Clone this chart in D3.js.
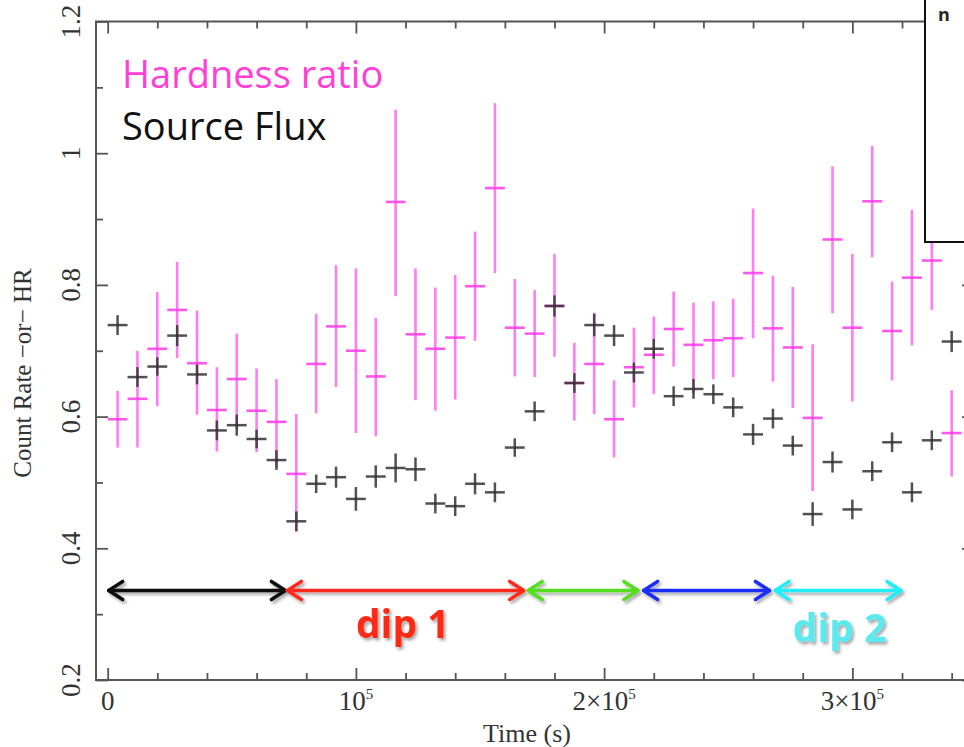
<!DOCTYPE html>
<html lang="en">
<head>
    <meta charset="UTF-8">
    <title>Hardness ratio and source flux</title>
    <script src="https://d3js.org/d3.v7.min.js"></script>
    <style>
        body {
            margin: 0;
            background: #fff;
        }
        svg {
            display: block;
        }
    </style>
</head>
<body>
<svg width="964" height="747"></svg>

<script>
    // time bins (s), centre of each 8 ks bin
    const times = [4000, 12000, 20000, 28000, 36000, 44000, 52000, 60000, 68000, 76000,
        84000, 92000, 100000, 108000, 116000, 124000, 132000, 140000, 148000, 156000,
        164000, 172000, 180000, 188000, 196000, 204000, 212000, 220000, 228000, 236000,
        244000, 252000, 260000, 268000, 276000, 284000, 292000, 300000, 308000, 316000,
        324000, 332000, 340000];
    const binHalf = 4000;

    // source flux (count rate), black crosses
    const flux = [0.739, 0.660, 0.676, 0.723, 0.664, 0.579, 0.587, 0.566, 0.534, 0.441,
        0.498, 0.508, 0.475, 0.509, 0.522, 0.520, 0.468, 0.464, 0.498, 0.485,
        0.553, 0.608, 0.768, 0.651, 0.739, 0.723, 0.667, 0.703, 0.631, 0.642,
        0.634, 0.614, 0.573, 0.597, 0.556, 0.452, 0.531, 0.459, 0.517, 0.561,
        0.485, 0.564, 0.714];
    const fluxErr = [0.015, 0.015, 0.014, 0.016, 0.015, 0.015, 0.016, 0.014, 0.015, 0.015,
        0.014, 0.016, 0.018, 0.017, 0.022, 0.018, 0.015, 0.015, 0.016, 0.015,
        0.014, 0.015, 0.016, 0.015, 0.017, 0.016, 0.015, 0.015, 0.015, 0.015,
        0.015, 0.015, 0.016, 0.015, 0.015, 0.018, 0.016, 0.015, 0.015, 0.015,
        0.015, 0.015, 0.016];

    // hardness ratio, magenta crosses with upper / lower bounds
    const hr = [0.596, 0.627, 0.703, 0.762, 0.681, 0.610, 0.657, 0.609, 0.592, 0.513,
        0.680, 0.737, 0.700, 0.661, 0.926, 0.725, 0.703, 0.720, 0.798, 0.947,
        0.735, 0.726, 0.768, 0.651, 0.680, 0.596, 0.675, 0.694, 0.733, 0.709,
        0.716, 0.719, 0.818, 0.734, 0.705, 0.598, 0.869, 0.735, 0.927, 0.730,
        0.811, 0.837, 0.575];
    const hrHi = [0.639, 0.700, 0.789, 0.835, 0.761, 0.675, 0.726, 0.673, 0.657, 0.604,
        0.756, 0.830, 0.825, 0.750, 1.066, 0.825, 0.796, 0.815, 0.881, 1.076,
        0.809, 0.792, 0.847, 0.712, 0.758, 0.655, 0.735, 0.752, 0.790, 0.773,
        0.775, 0.779, 0.916, 0.814, 0.797, 0.710, 0.980, 0.847, 1.011, 0.805,
        0.914, 0.905, 0.640];
    const hrLo = [0.553, 0.553, 0.616, 0.689, 0.603, 0.547, 0.581, 0.546, 0.523, 0.425,
        0.605, 0.645, 0.575, 0.570, 0.783, 0.625, 0.609, 0.626, 0.715, 0.818,
        0.661, 0.660, 0.691, 0.594, 0.604, 0.538, 0.614, 0.634, 0.676, 0.635,
        0.657, 0.660, 0.719, 0.653, 0.613, 0.487, 0.757, 0.623, 0.842, 0.655,
        0.708, 0.762, 0.509];

    // coloured interval arrows under the curves
    const segStart = [0, 72000, 169000, 215500, 268500];
    const segEnd = [72000, 168000, 214000, 267000, 320000];
    const segColor = ["#111111", "#ff2a1a", "#55dd22", "#1a2ef5", "#22eefa"];
    const segLevel = 0.336;

    const dipLabels = ["dip 1", "dip 2"];
    const dipTime = [100000, 276000];
    const dipLevel = [0.264, 0.257];
    const dipColor = ["#ff2a12", "#5ae9ef"];

    // tick values
    const xMajor = [0, 100000, 200000, 300000];
    const xMajorBase = ["0", "10", "2×10", "3×10"];
    const xMajorExp = ["", "5", "5", "5"];
    const xMinor = d3.range(0, 350000, 20000).filter(v => v % 100000 !== 0);
    const yMajor = [0.2, 0.4, 0.6, 0.8, 1.0, 1.2];
    const yMajorLabels = ["0.2", "0.4", "0.6", "0.8", "1", "1.2"];
    const yMinor = [0.3, 0.5, 0.7, 0.9, 1.1];

    const svg = d3.select("svg");

    const x = d3.scaleLinear().domain([-4700, 349000]).range([96, 974]);
    const y = d3.scaleLinear().domain([0.2, 1.2]).range([680, 21.5]);

    const [x0, x1] = x.range();
    const [y0, y1] = y.range();

    const defs = svg.append("defs");
    defs.append("filter").attr("id", "shadow")
        .attr("x", "-20%").attr("y", "-40%").attr("width", "140%").attr("height", "180%")
        .append("feDropShadow")
        .attr("dx", 2).attr("dy", 2.5).attr("stdDeviation", 1.6)
        .attr("flood-color", "#000").attr("flood-opacity", 0.35);

    // ---- axes (ticks pointing inwards on all four sides)
    const axisColor = "#555";

    function styleAxis(g) {
        g.select(".domain").remove();
        g.selectAll("line").attr("stroke", axisColor).attr("stroke-width", 1.8);
    }

    svg.append("g").attr("transform", `translate(0,${y0})`)
        .call(d3.axisBottom(x).tickValues(xMajor).tickSize(-12).tickFormat("")).call(styleAxis);
    svg.append("g").attr("transform", `translate(0,${y0})`)
        .call(d3.axisBottom(x).tickValues(xMinor).tickSize(-7).tickFormat("")).call(styleAxis);
    svg.append("g").attr("transform", `translate(0,${y1})`)
        .call(d3.axisTop(x).tickValues(xMajor).tickSize(-12).tickFormat("")).call(styleAxis);
    svg.append("g").attr("transform", `translate(0,${y1})`)
        .call(d3.axisTop(x).tickValues(xMinor).tickSize(-7).tickFormat("")).call(styleAxis);

    svg.append("g").attr("transform", `translate(${x0},0)`)
        .call(d3.axisLeft(y).tickValues(yMajor).tickSize(-12).tickFormat("")).call(styleAxis);
    svg.append("g").attr("transform", `translate(${x0},0)`)
        .call(d3.axisLeft(y).tickValues(yMinor).tickSize(-7).tickFormat("")).call(styleAxis);
    svg.append("g").attr("transform", `translate(${x1},0)`)
        .call(d3.axisRight(y).tickValues(yMajor).tickSize(-12).tickFormat("")).call(styleAxis);
    svg.append("g").attr("transform", `translate(${x1},0)`)
        .call(d3.axisRight(y).tickValues(yMinor).tickSize(-7).tickFormat("")).call(styleAxis);

    // frame
    svg.append("rect")
        .attr("x", x0).attr("y", y1)
        .attr("width", x1 - x0).attr("height", y0 - y1)
        .attr("fill", "none").attr("stroke", axisColor).attr("stroke-width", 2);

    // tick labels
    const serif = "'Liberation Serif', 'DejaVu Serif', serif";

    const xLab = svg.append("g")
        .attr("font-family", serif).attr("font-size", 27).attr("fill", "#333")
        .attr("text-anchor", "middle");
    xMajor.forEach(function (v, i) {
        const t = xLab.append("text").attr("x", x(v)).attr("y", 710);
        t.append("tspan").text(xMajorBase[i]);
        if (xMajorExp[i] !== "") {
            t.append("tspan").attr("font-size", 15).attr("dy", -11).text(xMajorExp[i]);
        }
    });

    svg.append("g")
        .attr("font-family", serif).attr("font-size", 27).attr("fill", "#333")
        .attr("text-anchor", "middle")
        .selectAll("text")
        .data(yMajor)
        .join("text")
        .attr("transform", d => `translate(80,${y(d)}) rotate(-90)`)
        .text((d, i) => yMajorLabels[i]);

    svg.append("text")
        .attr("x", 527).attr("y", 742)
        .attr("text-anchor", "middle")
        .attr("font-family", serif).attr("font-size", 26).attr("fill", "#333")
        .text("Time (s)");

    svg.append("text")
        .attr("transform", "translate(31,373) rotate(-90)")
        .attr("text-anchor", "middle")
        .attr("font-family", serif).attr("font-size", 25).attr("fill", "#333")
        .text("Count Rate \u2212or\u2212 HR");

    // ---- data
    const plot = svg.append("g");

    // hardness ratio crosses
    const hrG = plot.append("g").attr("stroke", "#ff66f0").attr("stroke-width", 2.6)
        .attr("stroke-opacity", 0.85);
    hrG.selectAll("line.v")
        .data(times)
        .join("line").attr("class", "v")
        .attr("x1", d => x(d)).attr("x2", d => x(d))
        .attr("y1", (d, i) => y(hrHi[i])).attr("y2", (d, i) => y(hrLo[i]));
    hrG.selectAll("line.h")
        .data(times)
        .join("line").attr("class", "h")
        .attr("stroke", "#ff3aea")
        .attr("x1", d => x(d - binHalf)).attr("x2", d => x(d + binHalf))
        .attr("y1", (d, i) => y(hr[i])).attr("y2", (d, i) => y(hr[i]));

    // source flux crosses
    const fxG = plot.append("g").attr("stroke", "#333").attr("stroke-width", 2.5)
        .attr("stroke-opacity", 0.85);
    fxG.selectAll("line.v")
        .data(times)
        .join("line").attr("class", "v")
        .attr("x1", d => x(d)).attr("x2", d => x(d))
        .attr("y1", (d, i) => y(flux[i] + fluxErr[i])).attr("y2", (d, i) => y(flux[i] - fluxErr[i]));
    fxG.selectAll("line.h")
        .data(times)
        .join("line").attr("class", "h")
        .attr("x1", d => x(d - binHalf)).attr("x2", d => x(d + binHalf))
        .attr("y1", (d, i) => y(flux[i])).attr("y2", (d, i) => y(flux[i]));

    // ---- interval arrows
    const arrows = svg.append("g").attr("filter", "url(#shadow)")
        .attr("fill", "none").attr("stroke-width", 3.5)
        .attr("stroke-linecap", "round").attr("stroke-linejoin", "round");
    const ay = y(segLevel);
    segStart.forEach(function (s, i) {
        const xa = x(s), xb = x(segEnd[i]);
        const g = arrows.append("g").attr("stroke", segColor[i]);
        g.append("line").attr("x1", xa + 1).attr("x2", xb - 1).attr("y1", ay).attr("y2", ay);
        g.append("path").attr("d", `M${xa + 15},${ay - 9}L${xa + 1},${ay}L${xa + 15},${ay + 9}`);
        g.append("path").attr("d", `M${xb - 15},${ay - 9}L${xb - 1},${ay}L${xb - 15},${ay + 9}`);
    });

    svg.append("g").attr("filter", "url(#shadow)")
        .attr("font-family", "'Open Sans', sans-serif").attr("font-weight", "bold")
        .attr("font-size", 39)
        .selectAll("text")
        .data(dipLabels)
        .join("text")
        .attr("x", (d, i) => x(dipTime[i]))
        .attr("y", (d, i) => y(dipLevel[i]))
        .attr("fill", (d, i) => dipColor[i])
        .text(d => d);

    // ---- legend text
    svg.append("text")
        .attr("x", 122).attr("y", 88)
        .attr("font-family", "'Open Sans', sans-serif").attr("font-size", 38)
        .attr("fill", "#ff3fd6")
        .text("Hardness ratio");
    svg.append("text")
        .attr("x", 122).attr("y", 140)
        .attr("font-family", "'Open Sans', sans-serif").attr("font-size", 38)
        .attr("fill", "#111")
        .text("Source Flux");

    // overlapping inset box cut by the right edge
    svg.append("rect")
        .attr("x", 925).attr("y", -10).attr("width", 80).attr("height", 252)
        .attr("fill", "#fff").attr("stroke", "#111").attr("stroke-width", 2);
    svg.append("text")
        .attr("x", 938).attr("y", 21)
        .attr("font-family", "'Open Sans', sans-serif").attr("font-weight", "bold")
        .attr("font-size", 18).attr("fill", "#2a2620")
        .text("n");
</script>
</body>
</html>
